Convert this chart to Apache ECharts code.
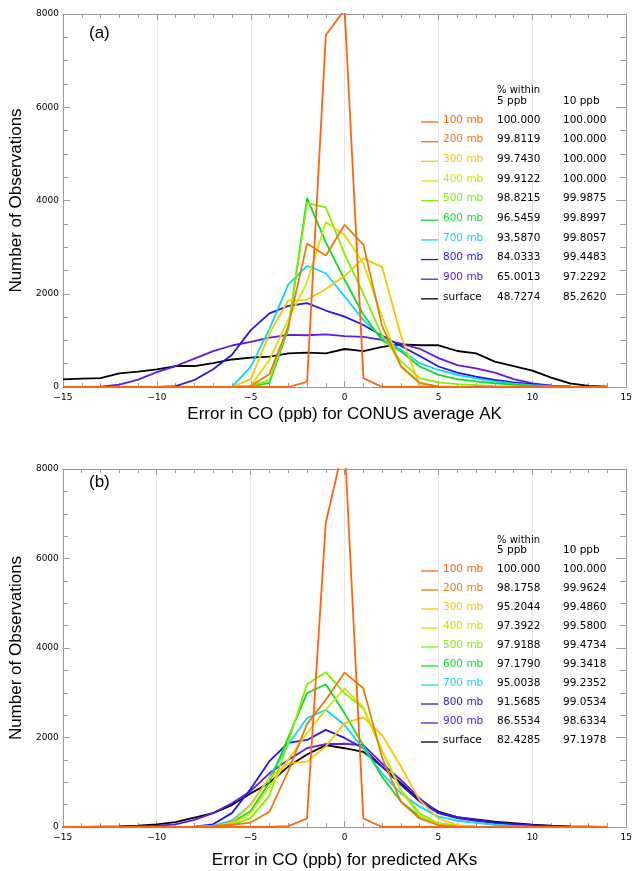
<!DOCTYPE html>
<html>
<head>
<meta charset="utf-8">
<script src="https://cdn.jsdelivr.net/npm/echarts@6/dist/echarts.min.js"></script>
<style>
html,body{margin:0;padding:0;background:#fff;}
#chart{width:635px;height:871px;}
</style>
</head>
<body>
<div id="chart"></div>
<script>
// ---------------- data ----------------
const xBins = [-15,-14,-13,-12,-11,-10,-9,-8,-7,-6,-5,-4,-3,-2,-1,0,1,2,3,4,5,6,7,8,9,10,11,12,13,14];
const levelNames = ['100 mb','200 mb','300 mb','400 mb','500 mb','600 mb','700 mb','800 mb','900 mb','surface'];
const levelColors = ['#ff6410','#e87a10','#ffc400','#d4e400','#80f000','#10dc28','#10d4ff','#2418e4','#6418e0','#000000'];

// Panel (a): CONUS average AK
const a100 = [0,0,0,0,0,0,0,0,0,0,0,0,0,110,7550,8090,190,0,0,0,0,0,0,0,0,0,0,0,0,0];
const a200 = [0,0,0,0,0,0,0,0,0,0,20,280,1300,3080,2820,3480,3050,1300,450,90,10,0,0,0,0,0,0,0,0,0];
const a300 = [0,0,0,0,0,0,0,0,0,0,170,1150,1860,1870,2100,2380,2760,2570,1100,30,0,0,0,0,0,0,0,0,0,0];
const a400 = [0,0,0,0,0,0,0,0,0,0,30,580,1450,2250,3540,3260,2650,1500,420,80,15,0,0,0,0,0,0,0,0,0];
const a500 = [0,0,0,0,0,0,0,0,0,0,20,150,1300,3950,3850,2850,2000,1100,550,190,100,60,40,20,10,0,0,0,0,0];
const a600 = [0,0,0,0,0,0,0,0,0,0,10,90,1250,4050,3100,2300,1550,1000,760,440,260,170,120,80,50,30,15,5,0,0];
const a700 = [0,0,0,0,0,0,0,0,0,10,430,1250,2200,2600,2440,1940,1440,1050,800,510,365,260,186,120,70,40,20,8,0,0];
const a800 = [0,0,0,0,0,0,20,150,380,690,1220,1580,1740,1800,1640,1510,1330,1100,880,665,440,310,220,150,100,60,30,10,0,0];
const a900 = [0,0,10,50,160,320,450,610,770,890,970,1060,1120,1110,1130,1090,1075,1010,930,820,620,470,400,307,170,80,30,10,0,0];
const aSfc = [165,180,190,290,330,380,450,450,510,590,630,650,720,737,722,815,770,860,915,895,895,772,722,545,450,350,200,80,25,5];

// Panel (b): predicted AKs
const b100 = [0,0,0,0,0,0,0,0,0,0,0,0,20,190,6800,8600,190,0,0,0,0,0,0,0,0,0,0,0,0,0];
const b200 = [0,0,0,0,0,0,0,0,20,50,100,340,1250,2300,2840,3450,3100,1550,560,190,40,10,0,0,0,0,0,0,0,0];
const b300 = [0,0,0,0,0,0,0,0,20,100,500,1100,1420,1460,1800,2320,2450,2050,1350,600,190,40,10,0,0,0,0,0,0,0];
const b400 = [0,0,0,0,0,0,0,0,10,60,300,900,1500,2100,2620,3100,2680,1700,800,250,70,20,0,0,0,0,0,0,0,0];
const b500 = [0,0,0,0,0,0,0,0,10,50,200,700,1900,3190,3460,2990,2650,1700,830,300,80,20,0,0,0,0,0,0,0,0];
const b600 = [0,0,0,0,0,0,0,0,20,100,350,1000,2000,2990,3190,2540,1830,1120,570,230,80,30,10,0,0,0,0,0,0,0];
const b700 = [0,0,0,0,0,0,0,0,30,140,500,1100,1850,2430,2620,2280,1750,1200,750,455,230,140,90,50,25,10,0,0,0,0];
const b800 = [0,0,0,0,0,0,0,10,60,310,850,1470,1880,1945,2170,1990,1760,1350,940,570,310,200,140,90,55,30,15,5,0,0];
const b900 = [0,0,5,10,20,30,60,160,310,530,800,1200,1500,1760,1850,1860,1830,1420,1050,640,320,220,160,100,65,40,20,10,5,0];
const bSfc = [0,5,10,15,30,60,110,210,310,490,750,990,1350,1620,1830,1760,1680,1350,980,600,345,220,170,120,85,50,30,15,8,0];

const pctA5  = ['100.000','99.8119','99.7430','99.9122','98.8215','96.5459','93.5870','84.0333','65.0013','48.7274'];
const pctA10 = ['100.000','100.000','100.000','100.000','99.9875','99.8997','99.8057','99.4483','97.2292','85.2620'];
const pctB5  = ['100.000','98.1758','95.2044','97.3922','97.9188','97.1790','95.0038','91.5685','86.5534','82.4285'];
const pctB10 = ['100.000','99.9624','99.4860','99.5800','99.4734','99.3418','99.2352','99.0534','98.6334','97.1978'];

const xTitles = ['Error in CO (ppb) for CONUS average AK','Error in CO (ppb) for predicted AKs'];
const yTitle = 'Number of Observations';
const panelLabels = ['(a)','(b)'];

const panelA = [a100,a200,a300,a400,a500,a600,a700,a800,a900,aSfc];
const panelB = [b100,b200,b300,b400,b500,b600,b700,b800,b900,bSfc];

// ---------------- layout ----------------
const grids = [
  {left:62, right:6, top:14, height:373},
  {left:60, right:6, top:469, height:358}
];
const frameColor = '#9a9a9a';
const tickFont = {fontFamily:'DejaVu Sans', fontSize:9, color:'#000'};
const titleFont = {fontFamily:'Liberation Sans', fontSize:17, color:'#000'};

function fmt(v){ return v < 0 ? '\u2212' + Math.abs(v) : String(v); }

const xAxes = [], yAxes = [], series = [], graphics = [];
const xNameGaps = [19, 25];
const yNameGaps = [38, 36];

[panelA, panelB].forEach((panel, g) => {
  xAxes.push({
    type:'value', gridIndex:g, position:'bottom', min:-15, max:15, interval:5,
    name: xTitles[g], nameLocation:'middle', nameGap: xNameGaps[g], nameTextStyle: titleFont,
    axisLine:{show:true, onZero:false, lineStyle:{color:frameColor, width:1}},
    axisTick:{show:true, inside:true, length:6, lineStyle:{color:frameColor}},
    minorTick:{show:true, splitNumber:5, length:4, lineStyle:{color:frameColor}},
    splitLine:{show:true, lineStyle:{color:'#e6e6e6', width:1}},
    axisLabel:Object.assign({margin:6, formatter:fmt}, tickFont)
  });
  xAxes.push({
    type:'value', gridIndex:g, position:'top', min:-15, max:15, interval:5,
    axisLine:{show:true, onZero:false, lineStyle:{color:frameColor, width:1}},
    axisTick:{show:true, inside:true, length:6, lineStyle:{color:frameColor}},
    minorTick:{show:true, splitNumber:5, length:4, lineStyle:{color:frameColor}},
    splitLine:{show:false}, axisLabel:{show:false}
  });
  yAxes.push({
    type:'value', gridIndex:g, position:'left', min:0, max:8000, interval:2000,
    name: yTitle, nameLocation:'middle', nameGap: yNameGaps[g], nameTextStyle: titleFont,
    axisLine:{show:true, onZero:false, lineStyle:{color:frameColor, width:1}},
    axisTick:{show:true, inside:true, length:7, lineStyle:{color:frameColor}},
    minorTick:{show:true, splitNumber:4, length:5, lineStyle:{color:frameColor}},
    splitLine:{show:false},
    axisLabel:Object.assign({margin:4, formatter:v => String(v)}, tickFont)
  });
  yAxes.push({
    type:'value', gridIndex:g, position:'right', min:0, max:8000, interval:2000,
    axisLine:{show:true, onZero:false, lineStyle:{color:frameColor, width:1}},
    axisTick:{show:true, inside:true, length:10, lineStyle:{color:frameColor}},
    minorTick:{show:true, splitNumber:4, length:6, lineStyle:{color:frameColor}},
    splitLine:{show:false}, axisLabel:{show:false}
  });
  // draw surface first, 100 mb last (on top)
  for (let i = panel.length - 1; i >= 0; i--) {
    series.push({
      type:'line', name: levelNames[i], xAxisIndex: g*2, yAxisIndex: g*2,
      data: xBins.map((x, k) => [x, panel[i][k]]),
      symbol:'none', clip:true,
      lineStyle:{color: levelColors[i], width:1.8},
      itemStyle:{color: levelColors[i]},
      z: 2 + (panel.length - i)
    });
  }
});

// panel labels and legend tables
const legendFont = 'DejaVu Sans';
const legendLayouts = [
  {headY:90, head2Y:101, rowY0:120, rowDy:19.65},
  {headY:540, head2Y:550, rowY0:569, rowDy:19.0}
];
const pctTables = [[pctA5, pctA10], [pctB5, pctB10]];
const labelPos = [[100,35],[100,484]];
const GZ = 100;

[0,1].forEach(g => {
  graphics.push({type:'text', z:GZ, left:labelPos[g][0]-11, top:labelPos[g][1]-10,
    style:{text:panelLabels[g], font:'17px "Liberation Sans"', fill:'#000'}});
  const L = legendLayouts[g];
  graphics.push({type:'text', z:GZ, x:497, y:L.headY, style:{text:'% within', font:'10px '+legendFont, fill:'#000', verticalAlign:'middle'}});
  graphics.push({type:'text', z:GZ, x:497, y:L.head2Y, style:{text:'5 ppb', font:'10.5px '+legendFont, fill:'#000', verticalAlign:'middle'}});
  graphics.push({type:'text', z:GZ, x:563, y:L.head2Y, style:{text:'10 ppb', font:'10.5px '+legendFont, fill:'#000', verticalAlign:'middle'}});
  levelNames.forEach((nm, i) => {
    const y = L.rowY0 + i*L.rowDy;
    graphics.push({type:'line', z:GZ, shape:{x1:421, y1:y+2, x2:438, y2:y+2}, style:{stroke:levelColors[i], lineWidth:1.3}});
    graphics.push({type:'text', z:GZ, x:443, y:y, style:{text:nm, font:'10.5px '+legendFont, fill:levelColors[i], verticalAlign:'middle'}});
    graphics.push({type:'text', z:GZ, x:497, y:y, style:{text:pctTables[g][0][i], font:'10.5px '+legendFont, fill:'#000', verticalAlign:'middle'}});
    graphics.push({type:'text', z:GZ, x:563, y:y, style:{text:pctTables[g][1][i], font:'10.5px '+legendFont, fill:'#000', verticalAlign:'middle'}});
  });
});

const chart = echarts.init(document.getElementById('chart'), null, {renderer:'canvas'});
chart.setOption({
  animation:false,
  backgroundColor:'#fff',
  grid: grids,
  xAxis: xAxes,
  yAxis: yAxes,
  series: series,
  graphic: graphics
});
</script>
</body>
</html>
